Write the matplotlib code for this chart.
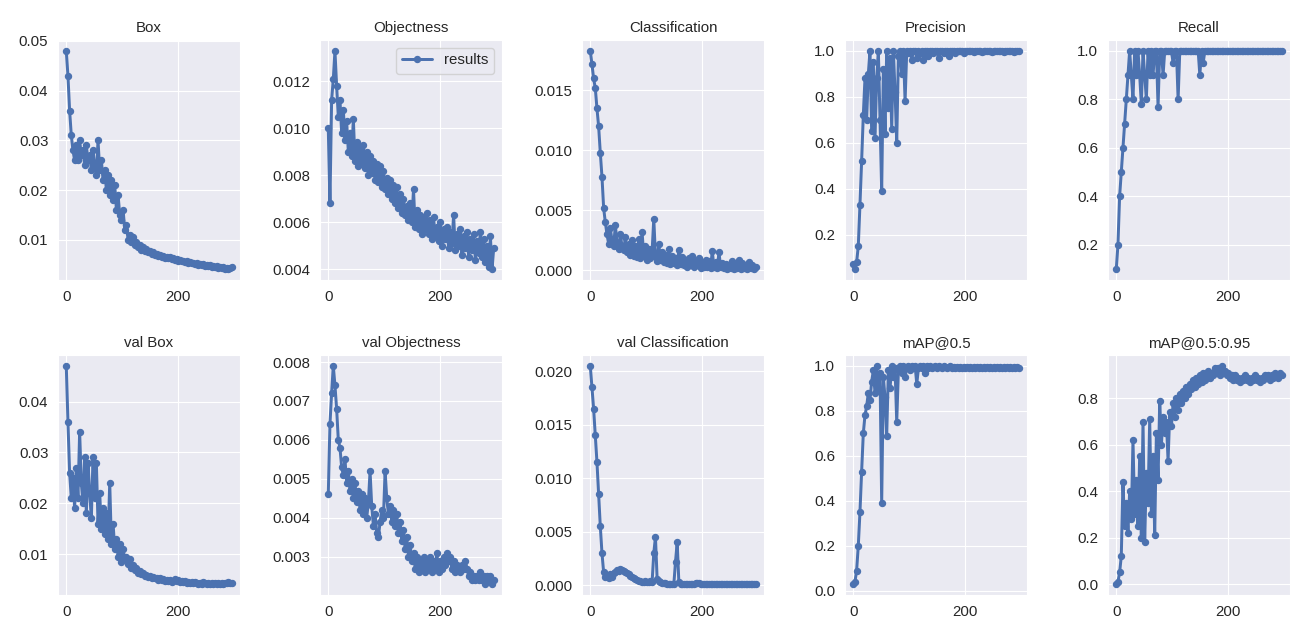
import numpy as np
import matplotlib
matplotlib.use("Agg")
import matplotlib.pyplot as plt
import seaborn as sns

# epochs sampled every 3rd epoch (0..297)
epochs = list(range(0, 300, 3))

box = [0.048, 0.043, 0.036, 0.031, 0.028, 0.026, 0.029, 0.026, 0.030, 0.027,
       0.028, 0.025, 0.029, 0.026, 0.027, 0.024, 0.028, 0.025, 0.023, 0.030,
       0.024, 0.026, 0.022, 0.024, 0.020, 0.023, 0.019, 0.022, 0.018, 0.021,
       0.016, 0.019, 0.015, 0.014, 0.016, 0.012, 0.013, 0.010, 0.011, 0.0095,
       0.0105, 0.009, 0.0095, 0.0085, 0.009, 0.008, 0.0085, 0.0078, 0.0082, 0.0075,
       0.0078, 0.0072, 0.0075, 0.0070, 0.0072, 0.0068, 0.0070, 0.0066, 0.0068, 0.0064,
       0.0066, 0.0063, 0.0065, 0.0061, 0.0063, 0.0060, 0.0062, 0.0058, 0.0060, 0.0057,
       0.0058, 0.0055, 0.0057, 0.0054, 0.0056, 0.0053, 0.0054, 0.0051, 0.0053, 0.0050,
       0.0052, 0.0049, 0.0051, 0.0048, 0.0050, 0.0047, 0.0049, 0.0046, 0.0048, 0.0045,
       0.0047, 0.0044, 0.0046, 0.0043, 0.0045, 0.0042, 0.0044, 0.0041, 0.0044, 0.0045]

objectness = [0.0100, 0.0068, 0.0112, 0.0121, 0.0133, 0.0118, 0.0105, 0.0112, 0.0098, 0.0108,
              0.0095, 0.0103, 0.0090, 0.0098, 0.0088, 0.0104, 0.0086, 0.0094, 0.0084, 0.0092,
              0.0085, 0.0093, 0.0083, 0.0090, 0.0080, 0.0088, 0.0081, 0.0086, 0.0078, 0.0085,
              0.0077, 0.0084, 0.0075, 0.0082, 0.0074, 0.0079, 0.0072, 0.0078, 0.0070, 0.0076,
              0.0068, 0.0075, 0.0066, 0.0072, 0.0064, 0.0070, 0.0063, 0.0067, 0.0061, 0.0068,
              0.0060, 0.0074, 0.0058, 0.0065, 0.0057, 0.0063, 0.0055, 0.0062, 0.0057, 0.0064,
              0.0055, 0.0061, 0.0053, 0.0062, 0.0054, 0.0058, 0.0052, 0.0060, 0.0050, 0.0057,
              0.0053, 0.0058, 0.0049, 0.0056, 0.0051, 0.0063, 0.0048, 0.0055, 0.0050, 0.0057,
              0.0046, 0.0054, 0.0049, 0.0056, 0.0045, 0.0053, 0.0048, 0.0055, 0.0044, 0.0052,
              0.0047, 0.0056, 0.0045, 0.0053, 0.0043, 0.0050, 0.0041, 0.0054, 0.0040, 0.0049]

classification = [0.0183, 0.0172, 0.0160, 0.0152, 0.0135, 0.0120, 0.0098, 0.0078, 0.0052, 0.0040,
                  0.0030, 0.0022, 0.0035, 0.0025, 0.0020, 0.0038, 0.0023, 0.0018, 0.0030, 0.0020,
                  0.0017, 0.0028, 0.0015, 0.0022, 0.0013, 0.0025, 0.0012, 0.0020, 0.0011, 0.0026,
                  0.0010, 0.0032, 0.0012, 0.0020, 0.0009, 0.0018, 0.0010, 0.0016, 0.0043, 0.0012,
                  0.0008, 0.0022, 0.0009, 0.0015, 0.0007, 0.0013, 0.0006, 0.0018, 0.0005, 0.0012,
                  0.0006, 0.0010, 0.0004, 0.0017, 0.0005, 0.0011, 0.0004, 0.0009, 0.0003, 0.0010,
                  0.0004, 0.0012, 0.0003, 0.0008, 0.0004, 0.0010, 0.0002, 0.0007, 0.0003, 0.0009,
                  0.0003, 0.0008, 0.0002, 0.0016, 0.0003, 0.0007, 0.0002, 0.0015, 0.0003, 0.0006,
                  0.0002, 0.0005, 0.0001, 0.0004, 0.0002, 0.0008, 0.0001, 0.0005, 0.0002, 0.0009,
                  0.0001, 0.0006, 0.0002, 0.0004, 0.0001, 0.0007, 0.0002, 0.0004, 0.0001, 0.0003]

precision = [0.07, 0.05, 0.08, 0.15, 0.33, 0.52, 0.72, 0.88, 0.70, 0.90,
             1.00, 0.65, 0.95, 0.62, 0.88, 1.00, 0.70, 0.39, 0.92, 0.64,
             1.00, 0.75, 0.97, 0.66, 1.00, 0.82, 0.60, 0.98, 1.00, 0.90,
             1.00, 0.78, 1.00, 0.99, 1.00, 0.96, 1.00, 1.00, 0.97, 1.00,
             0.99, 1.00, 0.96, 1.00, 1.00, 0.98, 1.00, 1.00, 0.99, 1.00,
             1.00, 0.97, 1.00, 1.00, 0.99, 1.00, 1.00, 0.98, 1.00, 1.00,
             1.00, 0.99, 1.00, 1.00, 1.00, 1.00, 0.99, 1.00, 1.00, 1.00,
             1.00, 1.00, 0.995, 1.00, 1.00, 1.00, 1.00, 0.995, 1.00, 1.00,
             1.00, 1.00, 1.00, 0.995, 1.00, 1.00, 1.00, 1.00, 1.00, 1.00,
             0.995, 1.00, 1.00, 1.00, 1.00, 1.00, 0.995, 1.00, 1.00, 1.00]

recall = [0.1, 0.2, 0.4, 0.5, 0.6, 0.7, 0.8, 0.9, 1.0, 0.9,
          0.8, 1.0, 0.9, 1.0, 0.9, 0.78, 1.0, 0.9, 0.8, 1.0,
          0.9, 1.0, 0.9, 1.0, 1.0, 0.77, 1.0, 1.0, 0.9, 1.0,
          1.0, 1.0, 1.0, 1.0, 0.95, 1.0, 1.0, 0.8, 1.0, 1.0,
          1.0, 1.0, 1.0, 1.0, 1.0, 1.0, 1.0, 1.0, 1.0, 1.0,
          0.9, 1.0, 0.95, 1.0, 1.0, 1.0, 1.0, 1.0, 1.0, 1.0,
          1.0, 1.0, 1.0, 1.0, 1.0, 1.0, 1.0, 1.0, 1.0, 1.0,
          1.0, 1.0, 1.0, 1.0, 1.0, 1.0, 1.0, 1.0, 1.0, 1.0,
          1.0, 1.0, 1.0, 1.0, 1.0, 1.0, 1.0, 1.0, 1.0, 1.0,
          1.0, 1.0, 1.0, 1.0, 1.0, 1.0, 1.0, 1.0, 1.0, 1.0]

val_box = [0.047, 0.036, 0.026, 0.021, 0.025, 0.019, 0.027, 0.021, 0.034, 0.024,
           0.020, 0.029, 0.018, 0.028, 0.022, 0.017, 0.029, 0.021, 0.028, 0.016,
           0.022, 0.015, 0.019, 0.014, 0.018, 0.013, 0.024, 0.012, 0.016, 0.011,
           0.013, 0.0095, 0.012, 0.0085, 0.011, 0.009, 0.0095, 0.008, 0.009, 0.0072,
           0.0078, 0.0068, 0.0072, 0.0063, 0.0066, 0.0060, 0.0062, 0.0057, 0.0059, 0.0055,
           0.0056, 0.0053, 0.0055, 0.0052, 0.0053, 0.0050, 0.0052, 0.0049, 0.0051, 0.0048,
           0.0049, 0.0047, 0.0050, 0.0046, 0.0048, 0.0051, 0.0047, 0.0049, 0.0046, 0.0048,
           0.0045, 0.0047, 0.0044, 0.0046, 0.0043, 0.0045, 0.0043, 0.0046, 0.0044, 0.0042,
           0.0044, 0.0042, 0.0045, 0.0043, 0.0041, 0.0043, 0.0042, 0.0044, 0.0041, 0.0043,
           0.0042, 0.0044, 0.0041, 0.0043, 0.0042, 0.0044, 0.0043, 0.0045, 0.0043, 0.0044]

val_objectness = [0.0046, 0.0064, 0.0072, 0.0079, 0.0074, 0.0068, 0.0060, 0.0058, 0.0053, 0.0051,
                  0.0055, 0.0049, 0.0052, 0.0047, 0.0050, 0.0045, 0.0049, 0.0044, 0.0047, 0.0042,
                  0.0046, 0.0041, 0.0045, 0.0040, 0.0044, 0.0052, 0.0043, 0.0038, 0.0041, 0.0036,
                  0.0035, 0.0039, 0.0042, 0.0040, 0.0052, 0.0045, 0.0041, 0.0043, 0.0039, 0.0042,
                  0.0038, 0.0041, 0.0036, 0.0039, 0.0034, 0.0037, 0.0032, 0.0035, 0.0030, 0.0033,
                  0.0029, 0.0031, 0.0027, 0.0030, 0.0026, 0.0029, 0.0027, 0.0030, 0.0026, 0.0029,
                  0.0027, 0.0030, 0.0026, 0.0029, 0.0027, 0.0031, 0.0026, 0.0029, 0.0027, 0.0030,
                  0.0028, 0.0031, 0.0029, 0.0030, 0.0027, 0.0029, 0.0026, 0.0028, 0.0027, 0.0026,
                  0.0028, 0.0027, 0.0029, 0.0027, 0.0025, 0.0026, 0.0024, 0.0025, 0.0024, 0.0025,
                  0.0024, 0.0026, 0.0024, 0.0025, 0.0023, 0.0025, 0.0024, 0.0025, 0.0023, 0.0024]

val_classification = [0.0205, 0.0185, 0.0165, 0.0140, 0.0115, 0.0085, 0.0055, 0.0030, 0.0012, 0.0008,
                      0.0009, 0.0007, 0.0010, 0.0008, 0.0011, 0.0012, 0.0014, 0.0013, 0.0015, 0.0014,
                      0.0013, 0.0012, 0.0011, 0.0010, 0.0009, 0.0008, 0.0007, 0.0006, 0.0005, 0.0004,
                      0.0004, 0.0003, 0.0003, 0.0004, 0.0003, 0.0003, 0.0004, 0.0003, 0.0030, 0.0045,
                      0.0006, 0.0004, 0.0003, 0.0002, 0.0002, 0.0002, 0.0001, 0.0001, 0.0001, 0.0001,
                      0.0001, 0.0022, 0.0040, 0.0003, 0.0001, 0.0001, 0.0001, 0.0001, 0.0001, 0.0001,
                      0.0001, 0.0001, 0.0001, 0.0002, 0.0002, 0.0002, 0.0001, 0.0001, 0.0001, 0.0001,
                      0.0001, 0.0001, 0.0001, 0.0001, 0.0001, 0.0001, 0.0001, 0.0001, 0.0001, 0.0001,
                      0.0001, 0.0001, 0.0001, 0.0001, 0.0001, 0.0001, 0.0001, 0.0001, 0.0001, 0.0001,
                      0.0001, 0.0001, 0.0001, 0.0001, 0.0001, 0.0001, 0.0001, 0.0001, 0.0001, 0.0001]

map50 = [0.03, 0.04, 0.09, 0.20, 0.35, 0.53, 0.70, 0.78, 0.82, 0.88,
         0.85, 0.93, 0.98, 0.88, 1.00, 0.90, 0.97, 0.39, 0.95, 0.86,
         0.69, 0.98, 0.90, 1.00, 0.95, 0.99, 0.75, 0.98, 1.00, 0.97,
         1.00, 0.95, 0.99, 1.00, 0.98, 1.00, 0.99, 1.00, 0.92, 0.99,
         1.00, 0.99, 1.00, 0.97, 1.00, 0.99, 1.00, 0.99, 0.995, 1.00,
         0.99, 1.00, 0.995, 0.99, 1.00, 0.995, 0.99, 0.995, 1.00, 0.99,
         0.995, 0.99, 0.995, 0.99, 0.995, 0.99, 0.995, 0.99, 0.995, 0.99,
         0.995, 0.99, 0.995, 0.99, 0.995, 0.99, 0.995, 0.99, 0.995, 0.99,
         0.995, 0.99, 0.995, 0.99, 0.995, 0.99, 0.995, 0.99, 0.995, 0.99,
         0.995, 0.99, 0.995, 0.99, 0.995, 0.99, 0.995, 0.99, 0.995, 0.99]

map50_95 = [0.00, 0.01, 0.05, 0.12, 0.44, 0.25, 0.35, 0.22, 0.40, 0.28,
            0.62, 0.30, 0.45, 0.25, 0.55, 0.20, 0.70, 0.18, 0.48, 0.35,
            0.71, 0.30, 0.55, 0.21, 0.65, 0.45, 0.79, 0.60, 0.72, 0.65,
            0.70, 0.53, 0.74, 0.68, 0.78, 0.72, 0.80, 0.75, 0.82, 0.78,
            0.83, 0.80, 0.85, 0.82, 0.86, 0.84, 0.88, 0.85, 0.89, 0.86,
            0.90, 0.87, 0.91, 0.88, 0.90, 0.92, 0.89, 0.91, 0.90, 0.93,
            0.91, 0.93, 0.90, 0.94, 0.91, 0.92, 0.90, 0.91, 0.89, 0.90,
            0.88, 0.90, 0.88, 0.89, 0.87, 0.89, 0.88, 0.90, 0.88, 0.89,
            0.87, 0.89, 0.88, 0.90, 0.88, 0.89, 0.87, 0.89, 0.88, 0.90,
            0.89, 0.90, 0.88, 0.90, 0.89, 0.91, 0.90, 0.89, 0.91, 0.90]

titles = ['Box', 'Objectness', 'Classification', 'Precision', 'Recall',
          'val Box', 'val Objectness', 'val Classification', 'mAP@0.5', 'mAP@0.5:0.95']
series = [box, objectness, classification, precision, recall,
          val_box, val_objectness, val_classification, map50, map50_95]

sns.set_style('darkgrid')
plt.rcParams['font.family'] = ['Liberation Sans', 'DejaVu Sans']
plt.rcParams['font.size'] = 10.8

W, H = 1293, 628
fig = plt.figure(figsize=(W / 100, H / 100), dpi=100)

lefts = [58, 320, 582, 845, 1108]
tops = [40, 355]
aw, ah = 182, 240

for i, (t, y) in enumerate(zip(titles, series)):
    r, c = divmod(i, 5)
    ax = fig.add_axes([lefts[c] / W, 1 - (tops[r] + ah) / H, aw / W, ah / H])
    ax.plot(epochs, y, marker='.', label='results', linewidth=2.15,
            markersize=8.6, color='#4C72B0')
    ax.set_title(t, fontsize=10.8, color='.15')
    ax.set_xticks([0, 200])
    ax.tick_params(labelsize=10.8, colors='.15')
    if i == 1:
        ax.legend(loc='upper right', fontsize=10.8)

fig.savefig('out.png', dpi=100)
